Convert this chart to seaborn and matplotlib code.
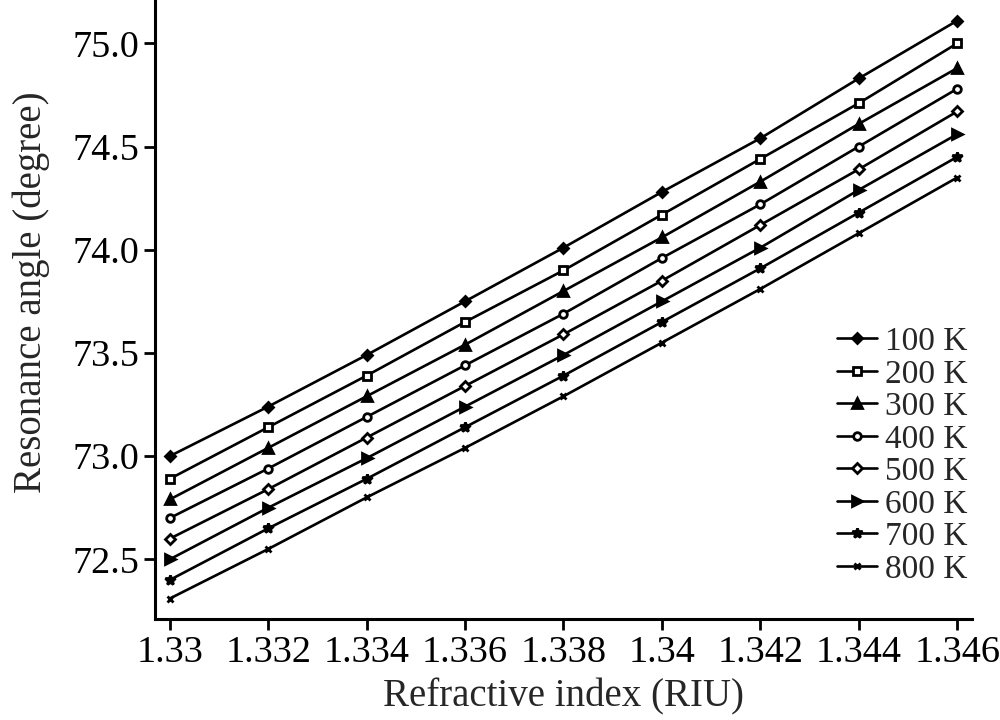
import numpy as np
import pandas as pd
import matplotlib
matplotlib.use("Agg")
import matplotlib.pyplot as plt
import seaborn as sns

# refractive index (RIU)
ri = [1.330, 1.332, 1.334, 1.336, 1.338, 1.340, 1.342, 1.344, 1.346]

# resonance angle (degree) per temperature
t100 = [73.00, 73.24, 73.49, 73.75, 74.01, 74.28, 74.54, 74.83, 75.11]
t200 = [72.89, 73.14, 73.39, 73.65, 73.90, 74.17, 74.44, 74.71, 75.00]
t300 = [72.79, 73.04, 73.29, 73.54, 73.80, 74.06, 74.33, 74.61, 74.88]
t400 = [72.70, 72.94, 73.19, 73.44, 73.69, 73.96, 74.22, 74.50, 74.78]
t500 = [72.60, 72.84, 73.09, 73.34, 73.59, 73.85, 74.12, 74.39, 74.67]
t600 = [72.50, 72.75, 72.99, 73.24, 73.49, 73.75, 74.01, 74.29, 74.56]
t700 = [72.40, 72.65, 72.89, 73.14, 73.39, 73.65, 73.91, 74.18, 74.45]
t800 = [72.31, 72.55, 72.80, 73.04, 73.29, 73.55, 73.81, 74.08, 74.35]

labels = ["100 K", "200 K", "300 K", "400 K", "500 K", "600 K", "700 K", "800 K"]
series = [t100, t200, t300, t400, t500, t600, t700, t800]

xticks = [1.33, 1.332, 1.334, 1.336, 1.338, 1.34, 1.342, 1.344, 1.346]
xticklabels = ["1.33", "1.332", "1.334", "1.336", "1.338", "1.34", "1.342", "1.344", "1.346"]

sns.set_style("ticks")
plt.rcParams["font.family"] = ["Liberation Serif", "DejaVu Serif"]

# marker style per series: (marker, size, filled)
styles = [("D", 5, True), ("s", 5.5, False), ("^", 6.5, True), ("o", 5.5, False),
          ("D", 5.5, False), (">", 6.5, True), ("*", 7.5, True), ("x", 5, True)]

fig = plt.figure(figsize=(10, 7.2), dpi=100)
ax = fig.add_axes([0.155, 0.14, 0.817, 0.86])

for vals, lab, (m, ms, filled) in zip(series, labels, styles):
    d = pd.DataFrame({"ri": ri, "angle": vals})
    sns.lineplot(data=d, x="ri", y="angle", ax=ax, color="black", linewidth=1.9,
                 marker=m, markersize=ms, markeredgecolor="black",
                 markeredgewidth=2,
                 markerfacecolor="black" if filled else "white", label=lab)

ax.set_xlim(1.3297, 1.3463)
ax.set_ylim(72.21, 75.21)
ax.set_xticks(xticks)
ax.set_xticklabels(xticklabels)
ax.set_yticks([72.5, 73.0, 73.5, 74.0, 74.5, 75.0])
ax.set_yticklabels(["72.5", "73.0", "73.5", "74.0", "74.5", "75.0"])
ax.tick_params(labelsize=27.5, width=2, length=8, direction="out", colors="black")
for s in ["left", "bottom"]:
    ax.spines[s].set_linewidth(2.2)
    ax.spines[s].set_color("black")
sns.despine(ax=ax)

ax.set_xlabel("Refractive index (RIU)", fontsize=28, labelpad=6)
ax.set_ylabel("Resonance angle (degree)", fontsize=28)
ax.yaxis.set_label_coords(-0.128, 0.528)

ax.legend(loc="upper right", bbox_to_anchor=(0.971, 0.551), bbox_transform=fig.transFigure,
          frameon=False, fontsize=24, labelspacing=0.06, handlelength=1.2,
          handletextpad=0.25, borderpad=0.1, borderaxespad=0)

plt.savefig("out.png", dpi=100)
